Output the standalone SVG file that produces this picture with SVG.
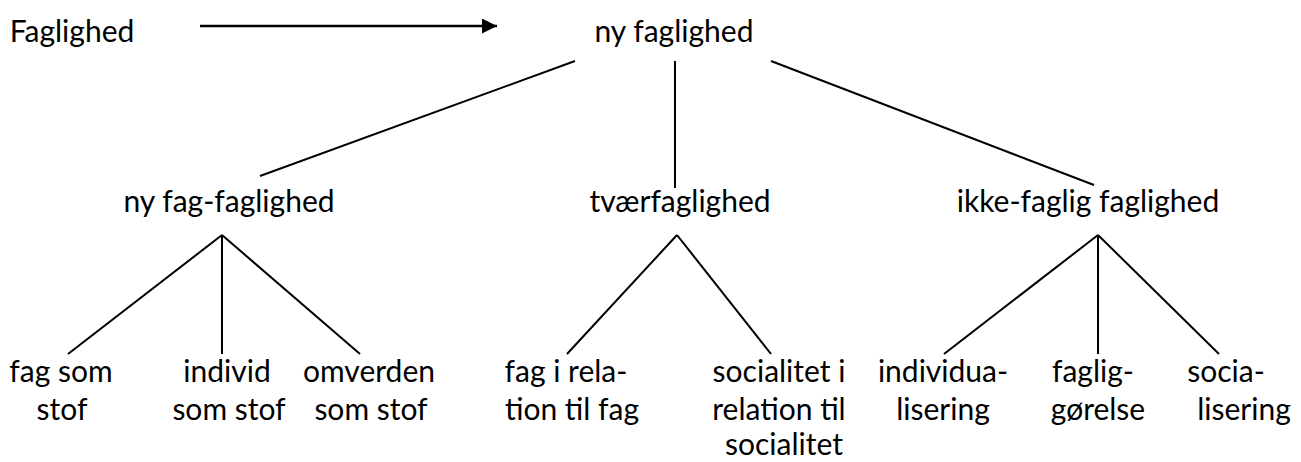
<svg xmlns="http://www.w3.org/2000/svg" width="1301" height="462" viewBox="0 0 1301 462">
  <style>
    text { font-family: Lato, "Open Sans", "Liberation Sans", sans-serif; font-size: 30px; fill: #000; text-anchor: middle; }
    .edge { stroke: #000; stroke-width: 2; fill: none; }
    .flow { stroke: #000; stroke-width: 2.5; fill: none; }
  </style>
  <defs>
    <marker id="arrowhead" markerWidth="15" markerHeight="15" refX="15" refY="7.5" orient="auto" markerUnits="userSpaceOnUse">
      <path d="M0,0 L15,7.5 L0,15 Z" fill="#000"/>
    </marker>
  </defs>
  <rect width="1301" height="462" fill="#fff"/>

  <!-- connectors -->
  <g id="connectors">
    <line class="flow" x1="200" y1="26" x2="497" y2="26" marker-end="url(#arrowhead)"/>
    <line class="edge" x1="575" y1="61" x2="260" y2="176"/>
    <line class="edge" x1="675" y1="61" x2="675" y2="188"/>
    <line class="edge" x1="771" y1="61" x2="1094" y2="185"/>
    <line class="edge" x1="222" y1="235" x2="68" y2="354"/>
    <line class="edge" x1="222" y1="235" x2="222" y2="354"/>
    <line class="edge" x1="222" y1="235" x2="360" y2="354"/>
    <line class="edge" x1="677" y1="235" x2="567" y2="354"/>
    <line class="edge" x1="677" y1="235" x2="771" y2="354"/>
    <line class="edge" x1="1098" y1="235" x2="944" y2="354"/>
    <line class="edge" x1="1098" y1="235" x2="1098" y2="354"/>
    <line class="edge" x1="1098" y1="235" x2="1219" y2="354"/>
  </g>

  <!-- nodes -->
  <g id="node-faglighed"><text x="72" y="42">Faglighed</text></g>
  <g id="node-ny-faglighed"><text x="674" y="42">ny faglighed</text></g>
  <g id="node-ny-fag-faglighed"><text x="229" y="212">ny fag-faglighed</text></g>
  <g id="node-tvaerfaglighed"><text x="680" y="212">tværfaglighed</text></g>
  <g id="node-ikke-faglig"><text x="1088" y="212">ikke-faglig faglighed</text></g>

  <g id="node-fag-som-stof">
    <text x="61" y="382">fag som</text>
    <text x="62" y="420">stof</text>
  </g>
  <g id="node-individ-som-stof">
    <text x="227" y="382">individ</text>
    <text x="229" y="420">som stof</text>
  </g>
  <g id="node-omverden-som-stof">
    <text x="369" y="382">omverden</text>
    <text x="371" y="420">som stof</text>
  </g>
  <g id="node-fag-i-relation">
    <text x="566" y="382">fag i rela-</text>
    <text x="572" y="420">tion til fag</text>
  </g>
  <g id="node-socialitet-i-relation">
    <text x="779" y="382">socialitet i</text>
    <text x="779" y="420">relation til</text>
    <text x="784" y="455">socialitet</text>
  </g>
  <g id="node-individualisering">
    <text x="943" y="382">individua-</text>
    <text x="943" y="420">lisering</text>
  </g>
  <g id="node-fagliggoerelse">
    <text x="1093" y="382">faglig-</text>
    <text x="1098" y="420">gørelse</text>
  </g>
  <g id="node-socialisering">
    <text x="1226" y="382">socia-</text>
    <text x="1244" y="420">lisering</text>
  </g>
</svg>
